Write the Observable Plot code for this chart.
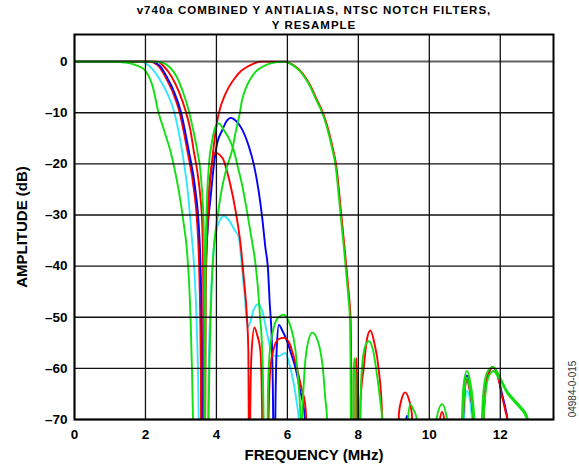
<!DOCTYPE html>
<html>
<head>
<meta charset="utf-8">
<script src="https://cdn.jsdelivr.net/npm/d3@7"></script>
<script src="https://cdn.jsdelivr.net/npm/@observablehq/plot@0.6"></script>
<style>
  body { margin: 0; background: white; }
  #wrap { position: relative; width: 579px; height: 467px; font-family: "Liberation Sans", Arial, sans-serif; }
  .title { position: absolute; left: 314px; transform: translateX(-50%); height: 12px; font-weight: bold; font-size: 11.5px; letter-spacing: 1px; line-height: 12px; white-space: nowrap; }
  #t1 { top: 4px; }
  #t2 { top: 18.5px; }
  #chart { position: absolute; left: 0; top: 30px; }
  #code { position: absolute; left: 571.5px; top: 389px; transform: translate(-50%, -50%) rotate(-90deg); font-size: 10px; color: #333; white-space: nowrap; }
</style>
</head>
<body>
<div id="wrap">
  <div class="title" id="t1">v740a COMBINED Y ANTIALIAS, NTSC NOTCH FILTERS,</div>
  <div class="title" id="t2">Y RESAMPLE</div>
  <div id="chart"></div>
  <div id="code">04984-0-015</div>
</div>
<script>
// ---- data: [frequency MHz, amplitude dB]; values below -70 dB run off the plot floor ----
const xTicks = [0, 2, 4, 6, 8, 10, 12];
const yTicks = [0, -10, -20, -30, -40, -50, -60, -70];

const redBP = [[3.62,-90],[3.645,-60],[3.67,-45],[3.7,-37],[3.78,-27],[3.88,-19.4],[3.97,-14],[4.04,-11],[4.11,-9],[4.2,-7.2],[4.35,-5],[4.5,-3.4],[4.7,-1.8],[4.87,-1],[5.05,-0.4],[5.24,0],[5.6,0],[5.92,0],[6.12,-0.5],[6.27,-1.2],[6.39,-2],[6.52,-3.2],[6.67,-5],[6.82,-7.3],[7.0,-10],[7.12,-12.5],[7.28,-17],[7.37,-20],[7.52,-30],[7.62,-37],[7.7,-43],[7.75,-47],[7.78,-50],[7.8,-60],[7.82,-90],[7.9,-90],[7.92,-62],[7.94,-58],[7.96,-62],[7.98,-90]];

const greenBP = [[3.74,-90],[3.8,-60],[3.86,-45],[3.92,-37],[4.02,-31],[4.15,-25],[4.3,-20.5],[4.44,-17.4],[4.55,-13.5],[4.66,-10],[4.72,-7.6],[4.84,-5],[4.95,-3.5],[5.1,-2],[5.3,-1],[5.5,-0.4],[5.7,-0.1],[5.92,0],[6.1,-0.5],[6.25,-1.2],[6.37,-2],[6.5,-3.2],[6.65,-5],[6.8,-7.3],[6.98,-10],[7.1,-12.5],[7.26,-17],[7.35,-20],[7.5,-30],[7.6,-37],[7.68,-43],[7.73,-47],[7.76,-50],[7.78,-60],[7.8,-90],[7.84,-90],[7.86,-62],[7.89,-58],[7.92,-62],[7.94,-90]];

const cyanLP = [[0,0],[1.86,0],[2.1,-0.8],[2.37,-3.1],[2.6,-6],[2.8,-9.6],[3.03,-17.4],[3.19,-25.3],[3.29,-33],[3.41,-45],[3.46,-55],[3.5,-70],[3.52,-90],[3.72,-90],[3.78,-60],[3.85,-45],[3.92,-37],[4.0,-33],[4.1,-31],[4.21,-30.2],[4.35,-31],[4.5,-32.8],[4.63,-34.4],[4.72,-40.3],[4.8,-46],[4.88,-52],[4.95,-51],[5.05,-48.5],[5.19,-47.4],[5.3,-49],[5.42,-53],[5.52,-56],[5.62,-57.5],[5.76,-57.6],[5.94,-57],[6.05,-59],[6.18,-63],[6.27,-67],[6.32,-70],[6.34,-90],[10.95,-90],[10.98,-70],[11.06,-64.4],[11.14,-66],[11.2,-70],[11.22,-90]];

const redLP2 = [[0,0],[2.1,0],[2.36,-0.8],[2.57,-3.1],[2.76,-5.8],[2.95,-9.6],[3.18,-17.4],[3.37,-25.3],[3.46,-31.8],[3.52,-42],[3.56,-60],[3.58,-90]];

const blueLP = [[0,0],[2.14,0],[2.4,-0.8],[2.61,-3.1],[2.8,-5.8],[2.99,-9.6],[3.22,-17.4],[3.41,-25.3],[3.5,-31.8],[3.56,-42],[3.6,-60],[3.62,-90],[3.64,-90],[3.68,-45],[3.75,-33],[3.83,-27],[3.95,-19],[4.02,-16],[4.16,-13.5],[4.28,-11.7],[4.41,-11],[4.55,-11.6],[4.72,-13.2],[4.91,-16.5],[5.05,-20],[5.19,-25.3],[5.29,-30.5],[5.38,-36.4],[5.45,-40.3],[5.5,-47],[5.57,-56.6],[5.6,-70],[5.62,-90],[5.64,-90],[5.66,-70],[5.7,-56],[5.76,-51.5],[5.85,-52.5],[5.99,-54.7],[6.1,-57],[6.23,-60],[6.35,-64],[6.5,-70],[6.52,-90],[9.33,-90],[9.35,-70],[9.37,-69.3],[9.4,-70],[9.42,-90],[10.93,-90],[10.95,-70],[11.0,-64],[11.06,-61.4],[11.13,-63.5],[11.24,-70],[11.26,-90],[11.5,-90],[11.53,-70],[11.6,-63],[11.7,-60.5],[11.78,-59.7],[11.86,-60.3],[11.95,-62],[12.05,-65],[12.15,-68],[12.2,-70],[12.22,-90]];

const redLP = [[0,0],[2.33,0],[2.5,-0.8],[2.75,-3.1],[2.95,-6],[3.13,-9.6],[3.27,-13.5],[3.36,-17.4],[3.45,-21],[3.53,-25.3],[3.6,-31.8],[3.63,-45],[3.65,-90],[3.67,-90],[3.7,-45],[3.75,-32],[3.78,-27],[3.85,-21],[3.97,-17.8],[4.1,-18.3],[4.21,-19.4],[4.3,-21.5],[4.39,-24],[4.54,-29.2],[4.68,-35.7],[4.77,-42.2],[4.86,-50],[4.9,-56.6],[4.91,-70],[4.92,-90],[4.93,-90],[4.95,-70],[4.99,-57],[5.07,-52],[5.15,-53.5],[5.24,-56.6],[5.29,-70],[5.31,-90],[5.45,-90],[5.47,-70],[5.52,-60],[5.62,-56],[5.75,-54.3],[5.9,-54],[6.05,-55],[6.15,-57],[6.27,-60],[6.4,-64],[6.5,-67],[6.53,-70],[6.55,-90],[8.03,-90],[8.06,-66.5],[8.15,-60],[8.25,-54],[8.34,-52.6],[8.45,-55],[8.57,-60],[8.67,-69],[8.7,-90],[9.12,-90],[9.14,-69],[9.22,-66],[9.32,-64.7],[9.42,-66],[9.51,-69],[9.53,-90],[10.28,-90],[10.3,-70],[10.36,-68.5],[10.42,-70],[10.44,-90],[10.93,-90],[10.95,-70],[11.0,-64.5],[11.06,-62.2],[11.13,-64],[11.24,-70],[11.26,-90],[11.5,-90],[11.53,-70],[11.6,-63],[11.7,-60.5],[11.78,-59.7],[11.88,-60.5],[11.95,-62],[12.05,-65.5],[12.15,-68.5],[12.2,-70],[12.22,-90]];

const greenLP1 = [[0,0],[1.0,0],[1.3,-0.1],[1.6,-0.4],[1.8,-0.9],[2.0,-1.8],[2.2,-4.8],[2.37,-10],[2.55,-14],[2.7,-17.4],[2.82,-21],[2.94,-25.3],[3.08,-31.8],[3.17,-37],[3.27,-50],[3.34,-70],[3.38,-90],[10.93,-90],[10.95,-70],[11.0,-64],[11.06,-61.8],[11.13,-63.5],[11.24,-70],[11.26,-90],[11.5,-90],[11.53,-70],[11.62,-63],[11.72,-61],[11.82,-60.5],[11.92,-61.5],[12.0,-62.3],[12.19,-64.8],[12.38,-66.4],[12.56,-67.8],[12.73,-69.6],[12.78,-71],[12.82,-90]];

const greenLP2 = [[0,0],[2.2,0],[2.47,-0.2],[2.7,-1.2],[2.89,-3.1],[3.05,-5.8],[3.22,-9.6],[3.35,-13.5],[3.46,-17.4],[3.55,-21.5],[3.6,-26],[3.64,-32],[3.665,-50],[3.675,-90],[3.685,-50],[3.72,-30],[3.78,-21],[3.88,-15.5],[3.97,-12.8],[4.07,-12.1],[4.2,-13.3],[4.35,-15],[4.49,-17.4],[4.6,-20.5],[4.72,-24],[4.86,-29.2],[5.0,-35],[5.1,-39.5],[5.16,-43.5],[5.23,-50],[5.29,-56.6],[5.33,-70],[5.35,-90],[5.42,-90],[5.45,-65],[5.5,-57],[5.6,-52.5],[5.75,-50],[5.9,-49.5],[6.05,-51],[6.17,-54],[6.23,-56.6],[6.3,-62],[6.37,-70],[6.39,-90],[6.4,-90],[6.42,-70],[6.47,-62],[6.55,-56],[6.7,-53],[6.85,-54.5],[6.93,-56.6],[7.0,-60],[7.07,-66],[7.12,-70],[7.14,-90],[8.02,-90],[8.05,-70],[8.1,-60],[8.2,-55.5],[8.29,-54.7],[8.4,-56],[8.5,-60],[8.62,-66.5],[8.67,-70],[8.69,-90],[9.38,-90],[9.4,-70],[9.46,-67],[9.55,-68],[9.65,-70],[9.67,-90],[10.18,-90],[10.2,-70],[10.36,-67],[10.5,-70],[10.52,-90],[10.9,-90],[10.92,-70],[10.97,-63],[11.06,-60.5],[11.15,-62.5],[11.27,-70],[11.29,-90],[11.46,-90],[11.48,-70],[11.55,-63],[11.65,-60.5],[11.8,-59.7],[11.9,-60.5],[12.0,-61.8],[12.19,-64.4],[12.38,-66],[12.56,-67.4],[12.75,-69.3],[12.8,-71],[12.85,-90]];

// drawing order (bottom to top) with colours
const seriesList = [
  {data: redBP,    color: "#ff0000"},
  {data: cyanLP,   color: "#33e6ff"},
  {data: redLP2,   color: "#ff0000"},
  {data: blueLP,   color: "#0000ff"},
  {data: redLP,    color: "#ff0000"},
  {data: greenBP,  color: "#11e011"},
  {data: greenLP1, color: "#11e011"},
  {data: greenLP2, color: "#11e011"}
];

const fmtY = d => d === 0 ? "0" : "\u2013" + Math.abs(d);

const lineMarks = seriesList.map(s =>
  Plot.line(s.data, {x: d => d[0], y: d => d[1], stroke: s.color, strokeWidth: 1.9, curve: "monotone-x", clip: true})
);

const chart = Plot.plot({
  width: 579,
  height: 437,
  marginLeft: 74,
  marginRight: 26,
  marginTop: 4,
  marginBottom: 48,
  style: {fontFamily: "'Liberation Sans', Arial, sans-serif", fontWeight: "bold", fontSize: "13.5px", color: "black", background: "white", overflow: "visible"},
  x: {domain: [0, 13.5], axis: null},
  y: {domain: [-70, 5.3], axis: null},
  marks: [
    ...lineMarks,
    Plot.ruleX(xTicks, {stroke: "#111", strokeWidth: 1.3}),
    Plot.ruleY(yTicks.filter(d => d !== 0), {stroke: "#111", strokeWidth: 1.3}),
    Plot.ruleY([0], {stroke: "#000", strokeOpacity: 0.62, strokeWidth: 2}),
    Plot.frame({stroke: "black", strokeWidth: 2}),
    Plot.axisX(xTicks, {tickSize: 0, tickPadding: 10, label: null, tickFormat: d => String(d)}),
    Plot.axisY(yTicks, {tickSize: 0, tickPadding: 7, label: null, tickFormat: fmtY}),
    Plot.text(["FREQUENCY (MHz)"], {frameAnchor: "bottom", lineAnchor: "middle", dy: 36, fontSize: 15, fontWeight: "bold"}),
    Plot.text(["AMPLITUDE (dB)"], {frameAnchor: "left", textAnchor: "middle", lineAnchor: "middle", dx: -52, rotate: -90, fontSize: 15, fontWeight: "bold"})
  ]
});
document.getElementById("chart").appendChild(chart);
</script>
</body>
</html>
